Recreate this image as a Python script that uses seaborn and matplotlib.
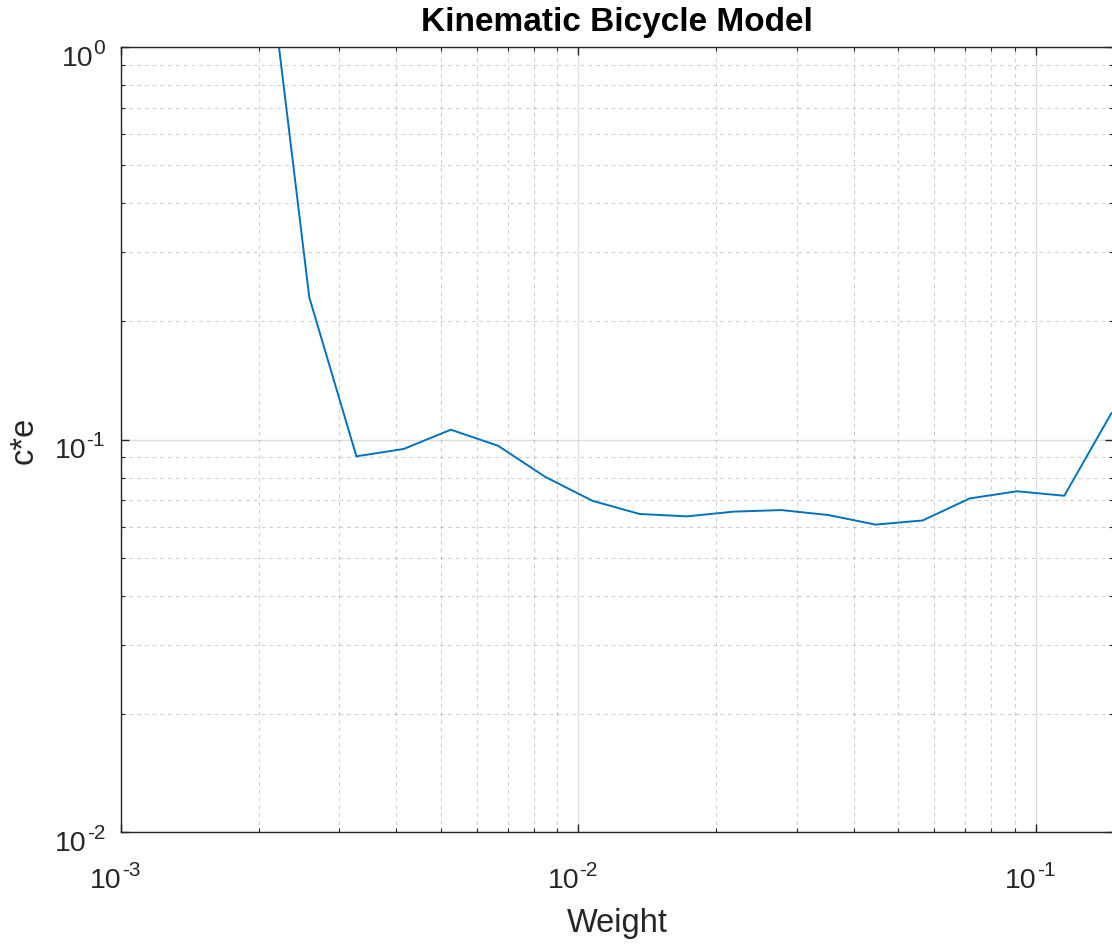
import numpy as np
import pandas as pd
import matplotlib
matplotlib.use("Agg")
import matplotlib.pyplot as plt
from matplotlib.ticker import LogLocator, FixedLocator, NullFormatter
from matplotlib.transforms import offset_copy
import seaborn as sns

# Regularisation weight sweep and the resulting c*e cost
weight = [0.002034, 0.002580, 0.003271, 0.004150, 0.005262, 0.006674,
          0.008465, 0.010730, 0.013607, 0.017258, 0.021883, 0.027752,
          0.035196, 0.044630, 0.056601, 0.071779, 0.091012, 0.115424,
          0.146387]
cost = [2.27, 0.2303, 0.0906, 0.0946, 0.1059, 0.0964,
        0.0803, 0.0698, 0.0646, 0.0637, 0.0655, 0.0661,
        0.0642, 0.0607, 0.0622, 0.0708, 0.0738, 0.0719,
        0.1168]

# Decade ticks: value and the exponent printed next to "10"
xtick_values = [1e-3, 1e-2, 1e-1]
xtick_exps = ["-3", "-2", "-1"]
ytick_values = [1e-2, 1e-1, 1e0]
ytick_exps = ["-2", "-1", "0"]

title = "Kinematic Bicycle Model"
xlabel = "Weight"
ylabel = "c*e"

df = pd.DataFrame({"Weight": weight, "ce": cost})

sns.set_theme(style="white")
plt.rcParams["font.family"] = ["Liberation Sans", "DejaVu Sans"]

INK = "#262626"
PX = 0.72  # points per pixel at 100 dpi

W, H = 1112, 945
fig = plt.figure(figsize=(W / 100, H / 100), dpi=100)
left_px, right_px, top_px, bottom_px = 121, 1113, 48, 833
ax = fig.add_axes([left_px / W, 1 - bottom_px / H,
                   (right_px - left_px) / W, (bottom_px - top_px) / H])

sns.lineplot(data=df, x="Weight", y="ce", ax=ax, color="#0072BD",
             linewidth=1.4, sort=False, estimator=None)

ax.set_xscale("log")
ax.set_yscale("log")
ax.set_xlim(1e-3, 0.1475)
ax.set_ylim(1e-2, 1e0)

ax.xaxis.set_major_locator(FixedLocator(xtick_values))
ax.yaxis.set_major_locator(FixedLocator(ytick_values))
ax.xaxis.set_minor_locator(LogLocator(base=10, subs=np.arange(2, 10), numticks=20))
ax.yaxis.set_minor_locator(LogLocator(base=10, subs=np.arange(2, 10), numticks=20))
ax.xaxis.set_minor_formatter(NullFormatter())
ax.yaxis.set_minor_formatter(NullFormatter())

ax.grid(True, which="major", color=INK, alpha=0.15, linewidth=1.0, linestyle="-")
ax.grid(True, which="minor", color=INK, alpha=0.22, linewidth=0.8,
        linestyle=(0, (3.5, 3.5)))
ax.set_axisbelow(True)

for side in ["left", "bottom", "top", "right"]:
    ax.spines[side].set_visible(True)
    ax.spines[side].set_color(INK)
    ax.spines[side].set_linewidth(1.0)

ax.tick_params(which="both", direction="in", top=True, right=True,
               bottom=True, left=True, colors=INK,
               labelbottom=False, labelleft=False)
ax.tick_params(which="major", length=6, width=1.0)
ax.tick_params(which="minor", length=3, width=0.8)

# Decade labels written as "10" with a raised exponent
BASE_FS, EXP_FS = 20.5, 15
xt = ax.get_xaxis_transform()
for v, e in zip(xtick_values, xtick_exps):
    ax.text(v, 0, "10", fontsize=BASE_FS, color=INK, ha="right", va="baseline",
            transform=offset_copy(xt, fig=fig, x=1 * PX, y=-55 * PX, units="points"))
    ax.text(v, 0, e, fontsize=EXP_FS, color=INK, ha="left", va="baseline",
            transform=offset_copy(xt, fig=fig, x=1 * PX, y=-43 * PX, units="points"))

yt = ax.get_yaxis_transform()
for v, e in zip(ytick_values, ytick_exps):
    et = ax.text(0, v, e, fontsize=EXP_FS, color=INK, ha="right", va="baseline",
                 transform=offset_copy(yt, fig=fig, x=-16 * PX, y=-6 * PX, units="points"))
    ax.annotate("10", xy=(0, v), xycoords=(et, ax.transData),
                xytext=(0, -18 * PX), textcoords="offset points",
                fontsize=BASE_FS, color=INK, ha="right", va="baseline")

ax.set_title(title, fontsize=24, fontweight="bold", color="black", pad=17 * PX)
ax.set_xlabel(xlabel, fontsize=23.5, color=INK)
ax.set_ylabel(ylabel, fontsize=23.5, color=INK)
ax.xaxis.label.set_verticalalignment("baseline")
ax.yaxis.label.set_verticalalignment("baseline")
ax.xaxis.set_label_coords(0.5, -(932 - bottom_px) / (bottom_px - top_px))
ax.yaxis.set_label_coords(-(left_px - 33) / (right_px - left_px), 0.5)

fig.savefig("out.png", dpi=100)
